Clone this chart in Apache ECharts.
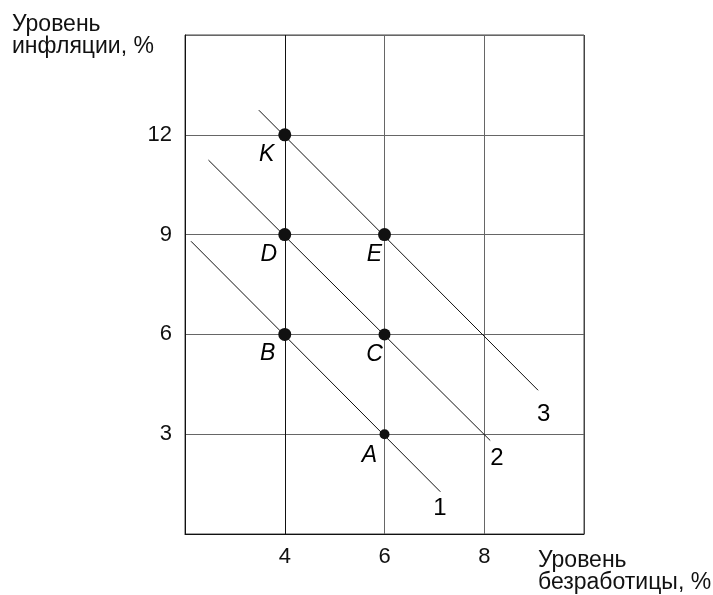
<!DOCTYPE html>
<html lang="ru">
<head>
    <meta charset="UTF-8">
    <title>Кривые Филлипса</title>
    <script src="https://cdn.jsdelivr.net/npm/echarts@6/dist/echarts.min.js"></script>
    <style>
        html, body { margin: 0; padding: 0; background: #fff; }
        #main { width: 713px; height: 595px; }
    </style>
</head>
<body>
<div id="main"></div>
<script type="text/javascript">
    // точки на графике
    var pointNames = ['K', 'D', 'E', 'B', 'C', 'A'];
    var pointX = [4, 4, 6, 4, 6, 6];
    var pointY = [12, 9, 9, 6, 6, 3];
    var pointSize = [13, 13, 13, 13, 12, 10];

    // три кривые (начало и конец отрезка)
    var curve1X = [2.12, 7.12];
    var curve1Y = [8.8, 1.27];
    var curve2X = [2.47, 8.12];
    var curve2Y = [11.24, 2.81];
    var curve3X = [3.48, 9.08];
    var curve3Y = [12.74, 4.32];
    var curveNames = ['1', '2', '3'];

    // подписи осей
    var xTicks = [4, 6, 8];
    var yTicks = [3, 6, 9, 12];

    var font = 'Liberation Sans, Arial, sans-serif';

    function makeCurve(xs, ys, name, offset) {
        var data = [];
        for (var i = 0; i < xs.length; i++) {
            data.push([xs[i], ys[i]]);
        }
        return {
            type: 'line',
            name: name,
            data: data,
            symbol: 'none',
            silent: true,
            lineStyle: { color: '#111', width: 1 },
            endLabel: {
                show: true,
                formatter: name,
                offset: offset,
                color: '#000',
                fontFamily: font,
                fontSize: 24
            },
            z: 3
        };
    }

    var labelOffsets = {
        K: [-18, 20], D: [-16, 20], E: [-10, 20],
        B: [-17, 19], C: [-10, 20], A: [-15, 21]
    };

    var points = [];
    for (var i = 0; i < pointNames.length; i++) {
        points.push({
            name: pointNames[i],
            value: [pointX[i], pointY[i]],
            symbolSize: pointSize[i],
            label: { offset: labelOffsets[pointNames[i]] }
        });
    }

    var myChart = echarts.init(document.getElementById('main'));

    var option = {
        animation: false,
        backgroundColor: '#fff',
        grid: {
            left: 185,
            top: 35,
            width: 399,
            height: 499,
            show: true,
            borderColor: '#444',
            borderWidth: 1
        },
        xAxis: {
            type: 'value',
            min: 2,
            max: 10,
            interval: 2,
            axisLine: { show: true, lineStyle: { color: '#111', width: 1 } },
            axisTick: { show: false },
            axisLabel: {
                color: '#111',
                fontFamily: font,
                fontSize: 22,
                margin: 12,
                formatter: function (v) {
                    return xTicks.indexOf(v) >= 0 ? String(v) : '';
                }
            },
            splitLine: {
                show: true,
                lineStyle: { color: ['#444', '#111', '#666', '#666', '#444'], width: 1 }
            }
        },
        yAxis: {
            type: 'value',
            min: 0,
            max: 15,
            interval: 3,
            axisLine: { show: true, lineStyle: { color: '#111', width: 1 } },
            axisTick: { show: false },
            axisLabel: {
                color: '#111',
                fontFamily: font,
                fontSize: 22,
                margin: 13,
                formatter: function (v) {
                    return yTicks.indexOf(v) >= 0 ? String(v) : '';
                }
            },
            splitLine: { show: true, lineStyle: { color: '#666', width: 1 } }
        },
        graphic: [
            {
                type: 'text',
                left: 12,
                top: 13,
                style: {
                    text: 'Уровень\nинфляции, %',
                    fill: '#111',
                    font: '23px ' + font,
                    lineHeight: 22
                }
            },
            {
                type: 'text',
                left: 538,
                top: 549,
                style: {
                    text: 'Уровень\nбезработицы, %',
                    fill: '#111',
                    font: '23px ' + font,
                    lineHeight: 22
                }
            }
        ],
        series: [
            makeCurve(curve1X, curve1Y, curveNames[0], [-15, 17]),
            makeCurve(curve2X, curve2Y, curveNames[1], [-8, 18]),
            makeCurve(curve3X, curve3Y, curveNames[2], [-9, 24]),
            {
                type: 'scatter',
                data: points,
                silent: true,
                itemStyle: { color: '#111', opacity: 1 },
                label: {
                    show: true,
                    position: 'inside',
                    formatter: '{b}',
                    color: '#000',
                    fontFamily: font,
                    fontStyle: 'italic',
                    fontSize: 23
                },
                z: 5
            }
        ]
    };

    myChart.setOption(option);
</script>
</body>
</html>
